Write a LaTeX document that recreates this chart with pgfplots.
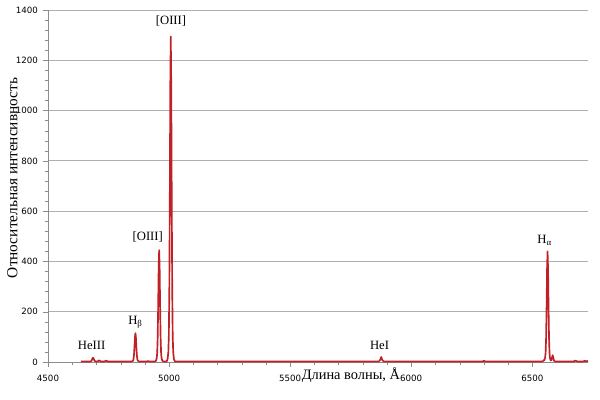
\documentclass[border=0pt]{standalone}
\usepackage{fontspec}
\setmainfont{Liberation Serif}
\newfontfamily\tickfont{DejaVu Sans}
\usepackage{pgfplots}
\pgfplotsset{compat=1.18}
\definecolor{specred}{RGB}{192,32,38}
\definecolor{gridgray}{RGB}{175,175,175}
\definecolor{axisgray}{RGB}{140,140,140}

\begin{document}
\begin{tikzpicture}
  \begin{axis}[
      scale only axis,
      width=405pt, height=264pt,
      xmin=4500, xmax=6730,
      ymin=0, ymax=1400,
      axis x line*=bottom,
      axis y line*=left,
      axis line style={axisgray},
      xtick distance=500,
      ytick distance=200,
      minor x tick num=4,
      minor y tick num=4,
      tick align=outside,
      major tick length=4pt,
      minor tick length=2.5pt,
      tick style={axisgray},
      ymajorgrids,
      major grid style={gridgray, line width=0.6pt},
      scaled ticks=false,
      /pgf/number format/.cd, 1000 sep={}, assume math mode=true,
      /pgfplots/.cd,
      ticklabel style={font=\tickfont\fontsize{6.5}{7}\selectfont, text=black},
      xticklabel style={yshift=-2pt},
      xlabel={Длина волны, Å},
      ylabel={Относительная интенсивность},
      xlabel style={at={(axis description cs:0.561,-0.036)}, anchor=center, font=\fontsize{10.8}{12}\selectfont},
      ylabel style={at={(axis description cs:-0.066,0.523)}, anchor=center, rotate=0, font=\fontsize{11.5}{13}\selectfont},
      clip=true,
    ]
    % spectrum
    \addplot [color=specred, line width=1.25pt, line join=round] coordinates {
      (4636,2) (4660,2) (4672,2)
      (4676,2.5) (4680,5) (4682,9.5) (4684,14.8) (4686,17) (4688,14.8)
      (4690,9.5) (4692,5) (4696,2.5) (4701,2.1)
      (4705,2.5) (4708,4.5) (4711,6.5) (4714,4.5) (4717,2.5) (4722,2)
      (4732,2) (4736,3.5) (4740,5.5) (4744,3.5) (4748,2)
      (4800,2) (4844,2)
      (4848,2.9) (4851,5.4) (4853,11) (4855,27) (4857,58) (4859,98) (4861,115)
      (4863,98) (4865,58) (4867,27) (4869,11) (4871,5.4) (4874,2.9) (4878,2)
      (4905,2) (4913,3.5) (4920,2) (4942,2)
      (4946,5.5) (4949,15) (4951,37) (4953,99) (4955,223) (4957,378) (4959,445)
      (4961,378) (4963,223) (4965,99) (4967,37) (4969,15) (4972,5.5) (4976,2)
      (4990,2) (4994,12) (4997,40) (4999,105) (5001,286) (5003,648) (5005,1100)
      (5007,1295) (5009,1100) (5011,648) (5013,286) (5015,105) (5017,40) (5020,12) (5024,2)
      (5200,2) (5500,2) (5800,2) (5862,2)
      (5866,2.5) (5870,6) (5872,9) (5874,15) (5876,20) (5878,15)
      (5880,9) (5882,6) (5886,2.5) (5890,2)
      (6100,2) (6294,2) (6300,4.5) (6306,2)
      (6400,2) (6538,2)
      (6543,2.5) (6546,6) (6548,8) (6550,7) (6553,18) (6555,37) (6557,98)
      (6559,221) (6561,374) (6563,440) (6565,374) (6567,221) (6569,98)
      (6571,37) (6573,15) (6576,6) (6579,8) (6582,20) (6584,27) (6586,20)
      (6589,7) (6593,2.5) (6598,2)
      (6668,2) (6673,3) (6678,6) (6683,3) (6688,2)
      (6708,2) (6713,3) (6717,5) (6721,3) (6725,3) (6730,4)
    };
    \node[font=\fontsize{9.5}{11}\selectfont] at (axis cs:5008,1358) {[OIII]};
    \node[font=\fontsize{9.5}{11}\selectfont] at (axis cs:4912,496) {[OIII]};
    \node[font=\fontsize{9.5}{11}\selectfont] at (axis cs:4861,158) {H\textsubscript{β}};
    \node[font=\fontsize{9.5}{11}\selectfont] at (axis cs:4680,64) {HeIII};
    \node[font=\fontsize{9.5}{11}\selectfont] at (axis cs:5869,64) {HeI};
    \node[font=\fontsize{9.5}{11}\selectfont] at (axis cs:6551,483) {H\textsubscript{α}};
  \end{axis}
  \path[use as bounding box] (current axis.south west) ++(-36pt,-28.5pt) rectangle ++(450pt,300pt);
\end{tikzpicture}
\end{document}
